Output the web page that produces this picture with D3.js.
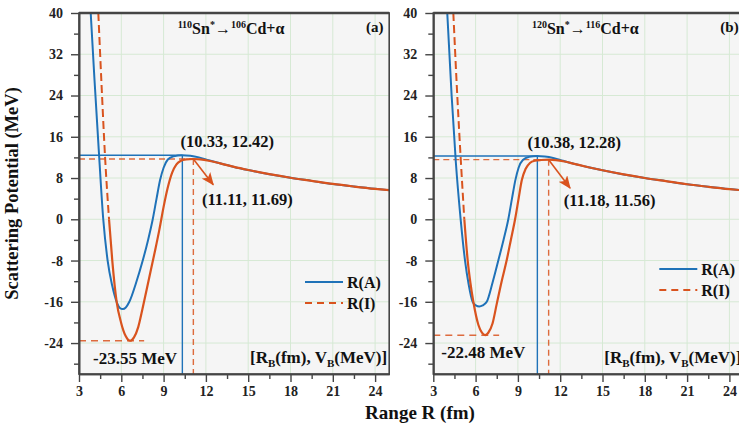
<!DOCTYPE html>
<html>
<head>
<meta charset="utf-8">
<script src="https://cdn.jsdelivr.net/npm/d3@7"></script>
<style>
  html, body { margin: 0; padding: 0; background: #ffffff; }
  svg { display: block; font-family: "Liberation Serif", "Times New Roman", serif; font-weight: bold; }
</style>
</head>
<body>
<svg id="chart" width="739" height="432"></svg>
<script>
// ---- axis ticks ----
const rangeTicks = [3, 6, 9, 12, 15, 18, 21, 24];
const rangeMinorTicks = [4.5, 7.5, 10.5, 13.5, 16.5, 19.5, 22.5];
const potentialTicks = [-24, -16, -8, 0, 8, 16, 24, 32, 40];
const potentialMinorTicks = [-28, -20, -12, -4, 4, 12, 20, 28, 36];
const seriesNames = ["R(A)", "R(I)"];
const panelTags = ["(a)", "(b)"];

// ---- 110Sn* -> 106Cd + alpha ----
const sn110_R_A = [3.83, 4.1, 4.4, 4.72, 5.03, 5.35, 5.67, 5.9, 6.1, 6.32, 6.57, 7.05, 7.52, 7.9, 8.23, 8.5, 8.75, 9.0, 9.3, 9.7, 10.33, 10.9, 11.5, 12.2, 13, 14, 15, 16.5, 18, 19.5, 21, 22.5, 24, 25];
const sn110_V_A = [40, 27, 13.5, 0, -8, -12.8, -16, -17.2, -17.4, -17.1, -16, -12.3, -8, -4, 0, 4, 7.6, 10, 11.6, 12.2, 12.42, 12.3, 12.0, 11.45, 10.85, 10.15, 9.55, 8.75, 8.05, 7.45, 6.85, 6.35, 5.9, 5.65];
const sn110_R_I = [4.37, 4.6, 4.85, 5.13, 5.36, 5.67, 5.98, 6.3, 6.62, 6.9, 7.2, 7.5, 7.8, 8.1, 8.4, 8.7, 9.0, 9.3, 9.6, 9.9, 10.2, 10.6, 11.11, 11.6, 12.2, 13, 14, 15, 16.5, 18, 19.5, 21, 22.5, 24, 25];
const sn110_V_I = [40, 26, 12, 0, -8, -16, -20, -22.6, -23.55, -22.9, -20.9, -17.4, -13.6, -9.8, -6.0, -2.0, 2.4, 6.2, 9.0, 10.6, 11.3, 11.6, 11.69, 11.6, 11.35, 10.85, 10.15, 9.55, 8.75, 8.05, 7.45, 6.85, 6.35, 5.9, 5.65];
const sn110_barrier_A = [10.33, 12.42];
const sn110_barrier_I = [11.11, 11.69];
const sn110_arrowTip = [12.52, 6.7];

// ---- 120Sn* -> 116Cd + alpha ----
const sn120_R_A = [3.99, 4.3, 4.6, 4.94, 5.25, 5.5, 5.79, 6.02, 6.26, 6.5, 6.79, 7.2, 7.61, 7.98, 8.32, 8.58, 8.82, 9.05, 9.35, 9.8, 10.38, 10.9, 11.5, 12.2, 13, 14, 15, 16.5, 18, 19.5, 21, 22.5, 24, 25];
const sn120_V_A = [40, 24, 11, 0, -8, -12.5, -16, -16.7, -16.9, -16.7, -16, -12.3, -8, -4, 0, 4, 7.6, 10, 11.5, 12.1, 12.28, 12.18, 11.9, 11.35, 10.75, 10.1, 9.5, 8.7, 8.0, 7.4, 6.8, 6.3, 5.85, 5.6];
const sn120_R_I = [4.42, 4.7, 4.95, 5.2, 5.44, 5.64, 5.84, 6.2, 6.45, 6.67, 6.9, 7.2, 7.5, 7.85, 8.2, 8.5, 8.8, 9.05, 9.27, 9.55, 9.85, 10.2, 10.65, 11.18, 11.7, 12.3, 13, 14, 15, 16.5, 18, 19.5, 21, 22.5, 24, 25];
const sn120_V_I = [40, 24, 11.5, 0, -8, -12.5, -16, -20.5, -22.0, -22.48, -22.0, -20.2, -16.4, -12, -8, -4, 0, 4, 7.5, 9.8, 10.9, 11.35, 11.5, 11.56, 11.47, 11.2, 10.75, 10.1, 9.5, 8.7, 8.0, 7.4, 6.8, 6.3, 5.85, 5.6];
const sn120_barrier_A = [10.38, 12.28];
const sn120_barrier_I = [11.18, 11.56];
const sn120_arrowTip = [12.7, 6.06];

const reactions = [
  { parent: "110", daughter: "106" },
  { parent: "120", daughter: "116" }
];

// ---- layout and style ----
const COLOR_A = "#1f72b8";
const COLOR_I = "#d9531e";
const GRID = "#d6e9d4";
const FRAME = "#454545";
const plotTop = 13, plotBottom = 374;
const plotWidth = 310.2;

const panels = [
  { left: 79,    legendTop: 269, RA: sn110_R_A, VA: sn110_V_A, RI: sn110_R_I, VI: sn110_V_I,
    barA: sn110_barrier_A, barI: sn110_barrier_I, tip: sn110_arrowTip, peakDx: 45, barDx: 54, wellDx: 56 },
  { left: 433.3, legendTop: 256, RA: sn120_R_A, VA: sn120_V_A, RI: sn120_R_I, VI: sn120_V_I,
    barA: sn120_barrier_A, barI: sn120_barrier_I, tip: sn120_arrowTip, peakDx: 37, barDx: 61, wellDx: 50 }
];

const svg = d3.select("#chart");
svg.append("rect").attr("width", 739).attr("height", 432).attr("fill", "#ffffff");

const defs = svg.append("defs");
defs.append("marker")
  .attr("id", "arrowHead")
  .attr("viewBox", "0 0 12 10")
  .attr("refX", 11).attr("refY", 5)
  .attr("markerWidth", 13).attr("markerHeight", 11)
  .attr("markerUnits", "userSpaceOnUse")
  .attr("orient", "auto")
  .append("path")
  .attr("d", "M0,0L12,5L0,10L3,5Z")
  .attr("fill", COLOR_I);

const y = d3.scaleLinear().domain([-30, 40]).range([plotBottom, plotTop]);

panels.forEach((p, i) => {
  const x = d3.scaleLinear().domain([3, 25]).range([p.left, p.left + plotWidth]);
  const g = svg.append("g");
  const clipId = "clip" + i;
  defs.append("clipPath").attr("id", clipId)
    .append("rect")
    .attr("x", x(3)).attr("y", plotTop)
    .attr("width", plotWidth).attr("height", plotBottom - plotTop);

  // plot background
  g.append("rect")
    .attr("x", x(3)).attr("y", plotTop)
    .attr("width", plotWidth).attr("height", plotBottom - plotTop)
    .attr("fill", "#f5f5f5");

  // grid
  const grid = g.append("g").attr("stroke", GRID).attr("stroke-width", 1);
  grid.selectAll("line.v").data(rangeTicks.slice(1)).join("line")
    .attr("x1", d => x(d)).attr("x2", d => x(d))
    .attr("y1", plotTop).attr("y2", plotBottom);
  grid.selectAll("line.h").data(potentialTicks.slice(0, -1)).join("line")
    .attr("y1", d => y(d)).attr("y2", d => y(d))
    .attr("x1", x(3)).attr("x2", x(25));

  const body = g.append("g").attr("clip-path", `url(#${clipId})`);

  // barrier guide lines
  const [rbA, vbA] = p.barA;
  const [rbI, vbI] = p.barI;
  body.append("line")
    .attr("x1", x(3)).attr("x2", x(rbA)).attr("y1", y(vbA)).attr("y2", y(vbA))
    .attr("stroke", COLOR_A).attr("stroke-width", 1.4);
  body.append("line")
    .attr("x1", x(rbA)).attr("x2", x(rbA)).attr("y1", y(vbA)).attr("y2", y(-30))
    .attr("stroke", COLOR_A).attr("stroke-width", 1.4);
  body.append("line")
    .attr("x1", x(3)).attr("x2", x(rbI)).attr("y1", y(vbI)).attr("y2", y(vbI))
    .attr("stroke", COLOR_I).attr("stroke-width", 1.4).attr("stroke-dasharray", "6,4").attr("opacity", 0.85);
  body.append("line")
    .attr("x1", x(rbI)).attr("x2", x(rbI)).attr("y1", y(vbI)).attr("y2", y(-30))
    .attr("stroke", COLOR_I).attr("stroke-width", 1.4).attr("stroke-dasharray", "6,4").attr("opacity", 0.85);

  // well depth of R(I)
  const wi = d3.minIndex(p.VI);
  const wellR = p.RI[wi], wellV = p.VI[wi];
  body.append("line")
    .attr("x1", x(3)).attr("x2", x(wellR + 1)).attr("y1", y(wellV)).attr("y2", y(wellV))
    .attr("stroke", COLOR_I).attr("stroke-width", 1.5).attr("stroke-dasharray", "7,5").attr("opacity", 0.85);

  // potential curves
  const line = d3.line().x(d => x(d[0])).y(d => y(d[1])).curve(d3.curveMonotoneX);
  const ptsA = p.RA.map((r, k) => [r, p.VA[k]]);
  const ptsI = p.RI.map((r, k) => [r, p.VI[k]]);
  body.append("path").attr("d", line(ptsA))
    .attr("fill", "none").attr("stroke", COLOR_A).attr("stroke-width", 2);
  // steep repulsive branch of R(I) keeps its dashes, the rest reads as solid
  const split = ptsI.findIndex(d => d[1] <= 0);
  body.append("path").attr("d", line(ptsI.slice(0, split + 1)))
    .attr("fill", "none").attr("stroke", COLOR_I).attr("stroke-width", 2).attr("stroke-dasharray", "8,4");
  body.append("path").attr("d", line(ptsI.slice(split)))
    .attr("fill", "none").attr("stroke", COLOR_I).attr("stroke-width", 2.2);

  // arrow pointing from the R(I) barrier to its label
  body.append("line")
    .attr("x1", x(rbI)).attr("y1", y(vbI))
    .attr("x2", x(p.tip[0])).attr("y2", y(p.tip[1]))
    .attr("stroke", COLOR_I).attr("stroke-width", 1.6)
    .attr("marker-end", "url(#arrowHead)");

  // frame
  g.append("rect")
    .attr("x", x(3)).attr("y", plotTop)
    .attr("width", plotWidth).attr("height", plotBottom - plotTop)
    .attr("fill", "none").attr("stroke", FRAME).attr("stroke-width", 1.6);
  g.append("line")
    .attr("x1", x(3)).attr("x2", x(25)).attr("y1", plotTop).attr("y2", plotTop)
    .attr("stroke", FRAME).attr("stroke-width", 2.4);

  // axes
  g.append("g").attr("transform", `translate(${x(3)},0)`)
    .call(d3.axisLeft(y).tickValues(potentialTicks).tickSize(8).tickSizeOuter(0).tickPadding(8)
      .tickFormat(d => String(d)));
  g.append("g").attr("transform", `translate(${x(3)},0)`)
    .call(d3.axisLeft(y).tickValues(potentialMinorTicks).tickSize(5).tickSizeOuter(0).tickFormat(""));
  g.append("g").attr("transform", `translate(0,${plotBottom})`)
    .call(d3.axisBottom(x).tickValues(rangeTicks).tickSize(8).tickSizeOuter(0).tickPadding(4)
      .tickFormat(d => String(d)));
  g.append("g").attr("transform", `translate(0,${plotBottom})`)
    .call(d3.axisBottom(x).tickValues(rangeMinorTicks).tickSize(5).tickSizeOuter(0).tickFormat(""));
  g.selectAll(".domain").attr("stroke", FRAME).attr("stroke-width", 1.6);
  g.selectAll(".tick line").attr("stroke", FRAME).attr("stroke-width", 1.4);
  g.selectAll(".tick text")
    .attr("font-family", "Liberation Serif, Times New Roman, serif")
    .attr("font-weight", "bold").attr("font-size", 14).attr("fill", "#222");

  // reaction title
  const rx = reactions[i];
  const title = g.append("text")
    .attr("x", x(3) + 152).attr("y", plotTop + 21)
    .attr("text-anchor", "middle").attr("font-size", 16).attr("fill", "#111");
  title.append("tspan").attr("font-size", 10).attr("dy", -6).text(rx.parent);
  title.append("tspan").attr("dy", 6).text("Sn");
  title.append("tspan").attr("font-size", 10).attr("dy", -6).text("*");
  title.append("tspan").attr("dy", 6).text("\u2192");
  title.append("tspan").attr("font-size", 10).attr("dy", -6).text(rx.daughter);
  title.append("tspan").attr("dy", 6).text("Cd+\u03b1");

  g.append("text")
    .attr("x", x(3) + 287).attr("y", plotTop + 19)
    .attr("font-size", 15).attr("fill", "#111")
    .text(panelTags[i]);

  // barrier labels
  g.append("text")
    .attr("x", x(rbA) + p.peakDx).attr("y", y(vbA) - 8)
    .attr("text-anchor", "middle").attr("font-size", 16.5).attr("fill", "#111")
    .text(`(${rbA.toFixed(2)}, ${vbA.toFixed(2)})`);
  g.append("text")
    .attr("x", x(rbI) + p.barDx).attr("y", y(vbI) + 46)
    .attr("text-anchor", "middle").attr("font-size", 16.5).attr("fill", "#111")
    .text(`(${rbI.toFixed(2)}, ${vbI.toFixed(2)})`);
  g.append("text")
    .attr("x", x(3) + p.wellDx).attr("y", y(wellV) + 23)
    .attr("text-anchor", "middle").attr("font-size", 17).attr("fill", "#111")
    .text(`${wellV.toFixed(2)} MeV`);

  // unit note
  const note = g.append("text")
    .attr("x", x(3) + 171).attr("y", plotBottom - 11)
    .attr("font-size", 17).attr("fill", "#111");
  note.append("tspan").text("[R");
  note.append("tspan").attr("font-size", 11).attr("dy", 4).text("B");
  note.append("tspan").attr("dy", -4).text("(fm), V");
  note.append("tspan").attr("font-size", 11).attr("dy", 4).text("B");
  note.append("tspan").attr("dy", -4).text("(MeV)]");

  // legend
  const leg = g.append("g").attr("transform", `translate(${x(3) + 226},${plotTop + p.legendTop})`);
  [[COLOR_A, null], [COLOR_I, "7,5"]].forEach((s, k) => {
    leg.append("line")
      .attr("x1", 0).attr("x2", 38).attr("y1", k * 21).attr("y2", k * 21)
      .attr("stroke", s[0]).attr("stroke-width", 2)
      .attr("stroke-dasharray", s[1]);
    leg.append("text")
      .attr("x", 42).attr("y", k * 21 + 6)
      .attr("font-size", 16).attr("fill", "#111")
      .text(seriesNames[k]);
  });
});

// axis titles
svg.append("text")
  .attr("transform", `translate(18,${(plotTop + plotBottom) / 2}) rotate(-90)`)
  .attr("text-anchor", "middle").attr("font-size", 18.5).attr("fill", "#111")
  .text("Scattering Potential (MeV)");
svg.append("text")
  .attr("x", 420).attr("y", 419)
  .attr("text-anchor", "middle").attr("font-size", 19).attr("fill", "#111")
  .text("Range R (fm)");
</script>
</body>
</html>
